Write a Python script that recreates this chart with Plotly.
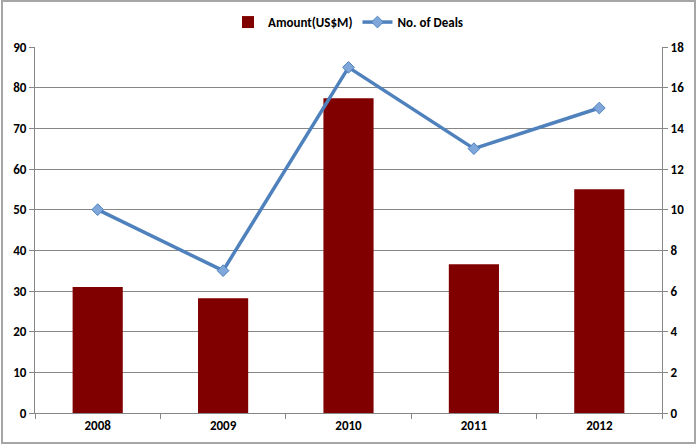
import plotly.graph_objects as go

years = ["2008", "2009", "2010", "2011", "2012"]
amount = [31.0, 28.2, 77.4, 36.6, 55.0]
deals = [10, 7, 17, 13, 15]

font_family = "Carlito, Lato, Liberation Sans, sans-serif"
tick_font = dict(family=font_family, size=13, color="#000000", weight="bold")

fig = go.Figure()
fig.add_trace(go.Bar(
    x=years, y=amount, name="Amount(US$M)",
    marker=dict(color="#800000", line=dict(width=0)),
    width=0.4, yaxis="y",
))
fig.add_trace(go.Scatter(
    x=years, y=deals, name="No. of Deals", mode="lines+markers",
    line=dict(color="#4F81BD", width=3.5),
    marker=dict(symbol="diamond", size=9, color="#7FA7DA",
                line=dict(color="#4F81BD", width=1)),
    yaxis="y2",
))

fig.update_layout(
    width=697, height=446,
    margin=dict(l=35, r=35, t=47, b=33, autoexpand=False),
    paper_bgcolor="white", plot_bgcolor="white",
    font=dict(family=font_family, size=13, color="#000000"),
    showlegend=True,
    legend=dict(orientation="h", x=0.5, xanchor="center", y=1.068, yanchor="middle",
                font=dict(family=font_family, size=13, color="#000000", weight="bold"),
                tracegroupgap=0),
    bargap=0.6,
    xaxis=dict(
        type="category", showgrid=False, showline=True, linecolor="#868686", linewidth=1,
        ticks="outside", tickson="boundaries", ticklen=5, tickcolor="#868686",
        tickfont=tick_font, automargin=False,
    ),
    yaxis=dict(
        range=[0, 90], dtick=10, showgrid=True, gridcolor="#868686", gridwidth=1,
        showline=True, linecolor="#868686", linewidth=1,
        ticks="outside", ticklen=5, tickcolor="#868686", zeroline=False,
        tickfont=tick_font, automargin=False,
    ),
    yaxis2=dict(
        range=[0, 18], dtick=2, overlaying="y", side="right", showgrid=False,
        showline=True, linecolor="#868686", linewidth=1,
        ticks="outside", ticklen=5, tickcolor="#868686", zeroline=False,
        tickfont=tick_font, automargin=False,
    ),
    shapes=[dict(type="rect", xref="paper", yref="paper",
                 x0=-33/627, x1=1+33/627, y0=-30/366, y1=1+46/366,
                 line=dict(color="#A6A6A6", width=2), fillcolor="rgba(0,0,0,0)", layer="below")],
)

fig.write_html("out.html")
